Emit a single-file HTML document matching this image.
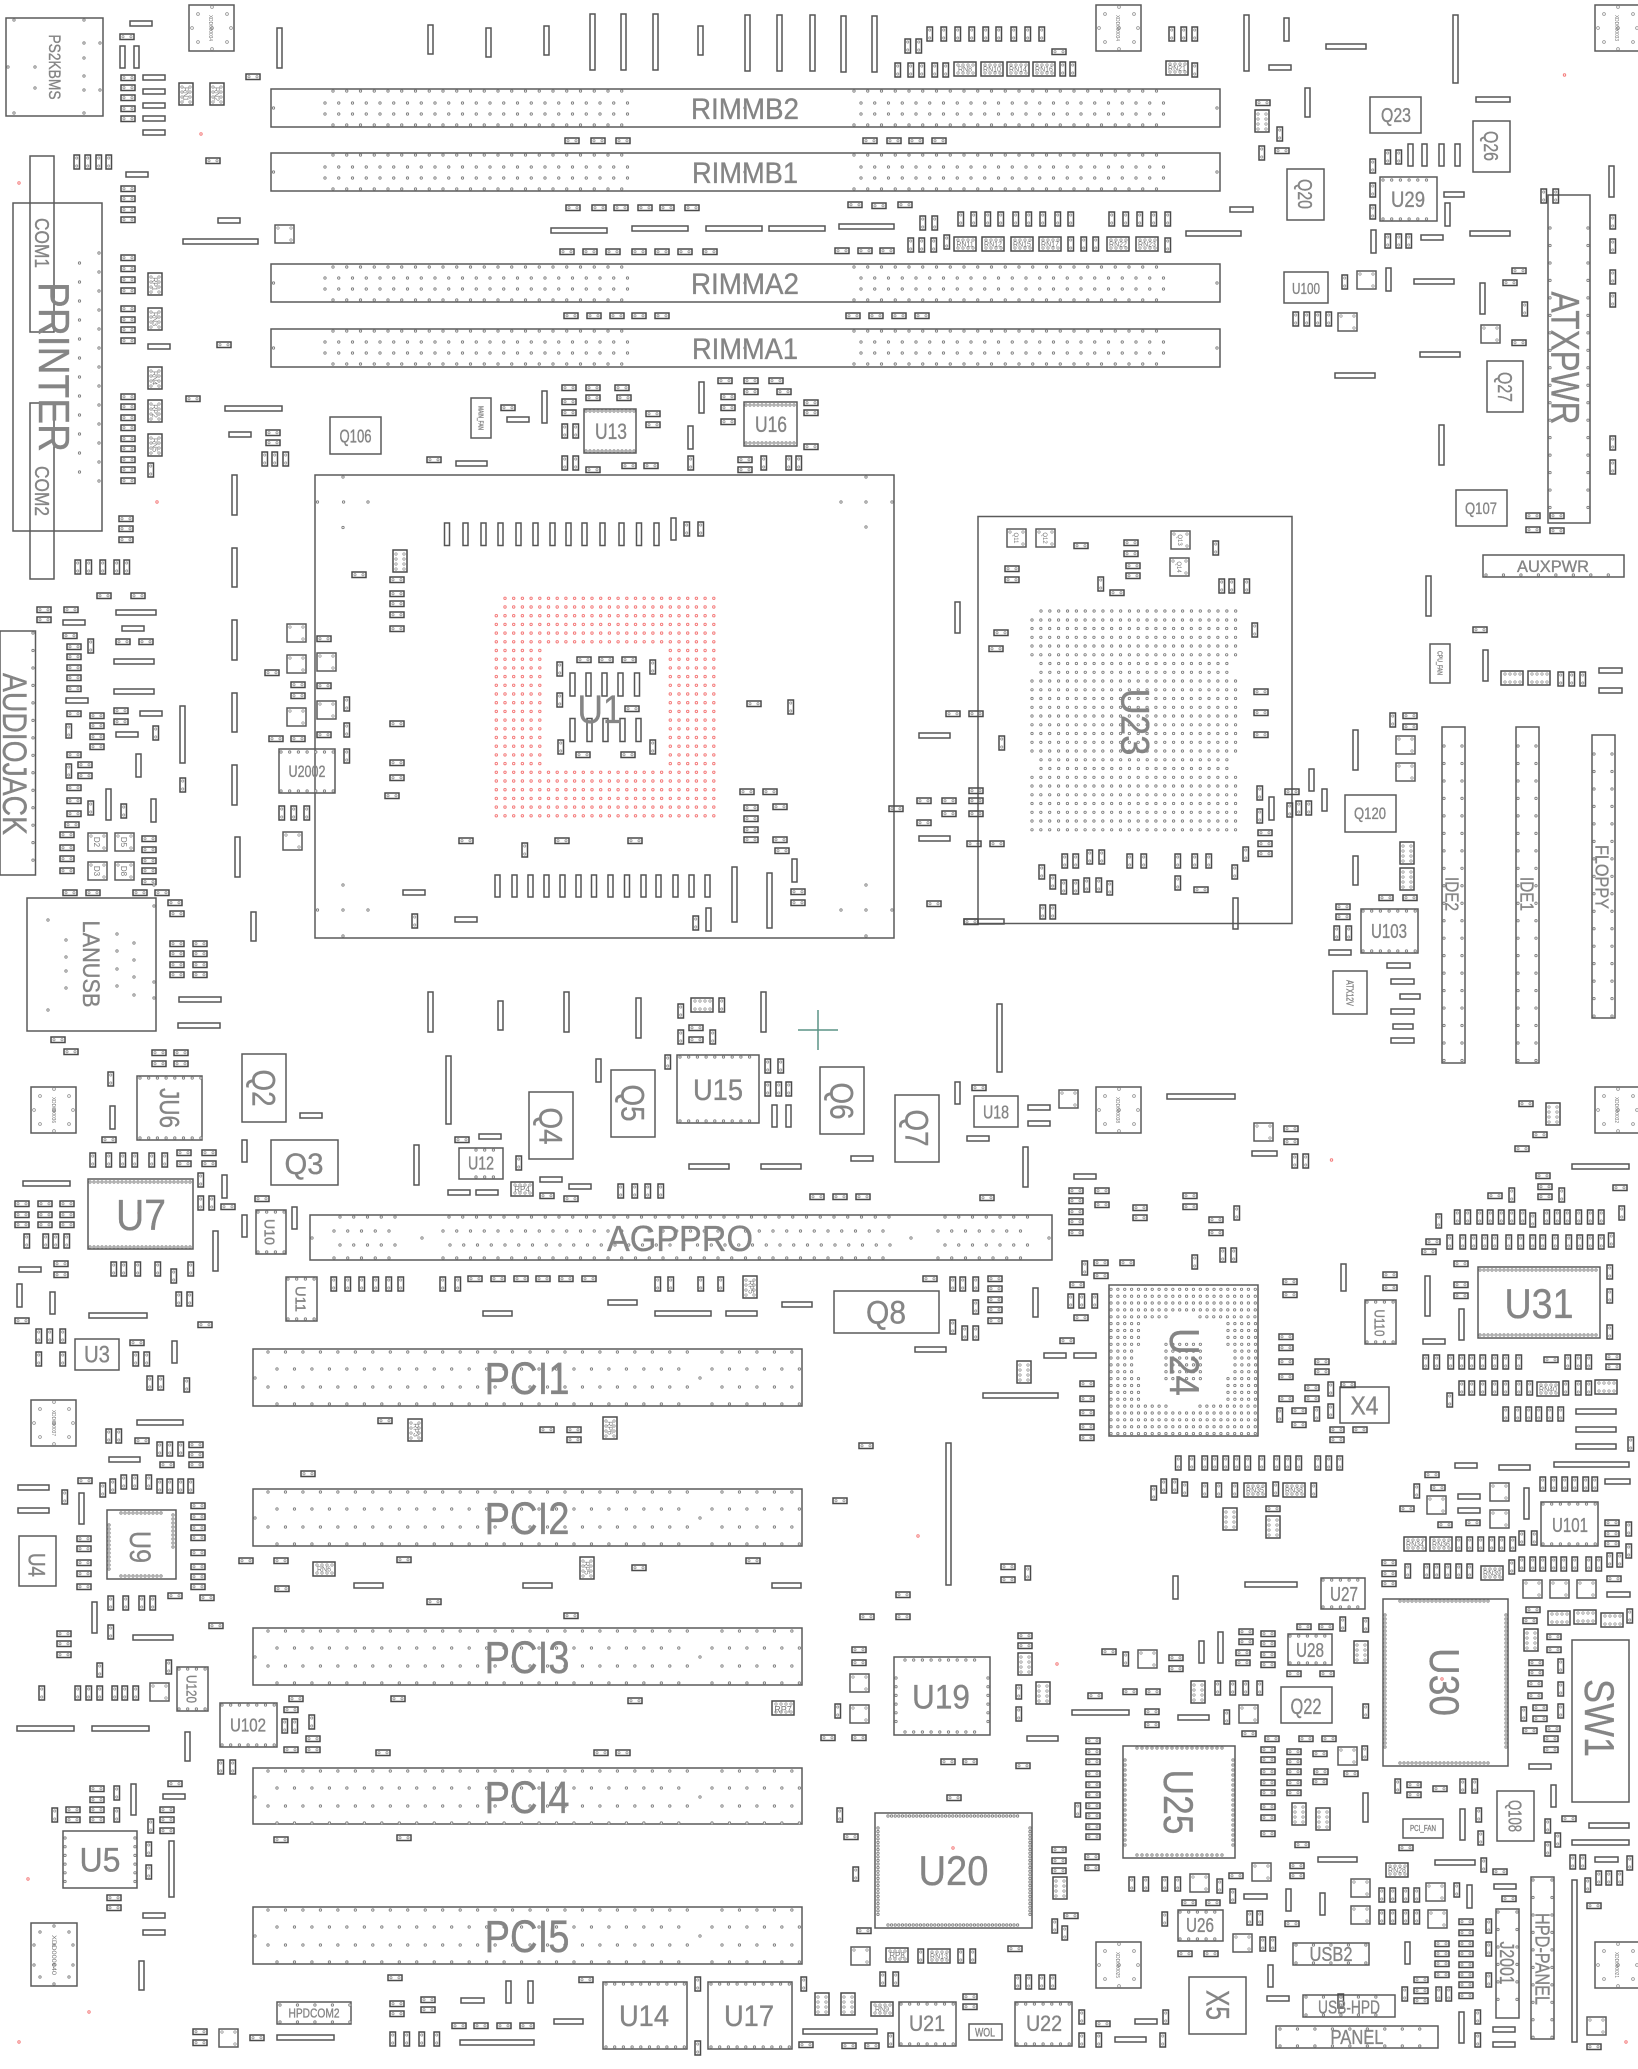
<!DOCTYPE html>
<html><head><meta charset="utf-8"><title>Board</title>
<style>
html,body{margin:0;padding:0;background:#fff}
svg{display:block}
.c{fill:none;stroke:#4a4a4a;stroke-width:1.5}
.b{fill:none;stroke:#5a5a5a;stroke-width:1.5}
.l{fill:none;stroke:#555;stroke-width:1.5}
.o{fill:none;stroke:#888;stroke-width:.7}
text{fill:#858585;stroke:#858585;stroke-width:.35;text-anchor:middle;font-family:"Liberation Sans",sans-serif}
.t text{stroke:none;fill:#777}
.p3{stroke-dasharray:0 3.6}.p4{stroke-dasharray:0 4}.p5{stroke-dasharray:0 5}.p7{stroke-dasharray:0 6.87}.p8{stroke-dasharray:0 8.85}.p9{stroke-dasharray:0 8.7}.p13{stroke-dasharray:0 13.75}.p17{stroke-dasharray:0 17.47}.p19{stroke-dasharray:0 19}
</style></head><body>
<svg xmlns="http://www.w3.org/2000/svg" width="1638" height="2069" viewBox="0 0 1638 2069">
<defs>
<g id="h"><rect class="c" width="14" height="5.5"/><circle class="o" cx="3" cy="2.75" r="1.1"/><circle class="o" cx="11" cy="2.75" r="1.1"/></g>
<g id="v"><rect class="c" width="5.5" height="14"/><circle class="o" cx="2.75" cy="3" r="1.1"/><circle class="o" cx="2.75" cy="11" r="1.1"/></g>
<g id="n"><rect class="c" width="22" height="14"/><circle class="o" cx="4" cy="3" r="1.2"/><circle class="o" cx="9" cy="3" r="1.2"/><circle class="o" cx="14" cy="3" r="1.2"/><circle class="o" cx="19" cy="3" r="1.2"/><circle class="o" cx="4" cy="11" r="1.2"/><circle class="o" cx="9" cy="11" r="1.2"/><circle class="o" cx="14" cy="11" r="1.2"/><circle class="o" cx="19" cy="11" r="1.2"/></g>
<g id="N"><rect class="c" width="14" height="22"/><circle class="o" cx="3" cy="4" r="1.2"/><circle class="o" cx="3" cy="9" r="1.2"/><circle class="o" cx="3" cy="14" r="1.2"/><circle class="o" cx="3" cy="19" r="1.2"/><circle class="o" cx="11" cy="4" r="1.2"/><circle class="o" cx="11" cy="9" r="1.2"/><circle class="o" cx="11" cy="14" r="1.2"/><circle class="o" cx="11" cy="19" r="1.2"/></g>
<g id="q"><rect class="b" width="19" height="18"/><circle class="o" cx="3" cy="3" r="1.2"/><circle class="o" cx="16" cy="3" r="1.2"/><circle class="o" cx="16" cy="15" r="1.2"/></g>
<g id="m"><rect class="b" width="45" height="46"/><circle class="o" cx="23" cy="2" r="1.4"/><circle class="o" cx="9" cy="9" r="1.4"/><circle class="o" cx="38" cy="9" r="1.4"/><circle class="o" cx="3" cy="23" r="1.4"/><circle class="o" cx="42" cy="23" r="1.4"/><circle class="o" cx="9" cy="37" r="1.4"/><circle class="o" cx="38" cy="37" r="1.4"/><circle class="o" cx="23" cy="44" r="1.4"/><circle class="o" cx="23" cy="23" r="1.4"/></g>
<g id="D">
<path class="p13" d="M333 91H635M854 91H1159M325 103H629M861 103H1166M325 114H629M861 114H1166M333 125H635M854 125H1159M333 155H635M854 155H1159M325 167H629M861 167H1166M325 178H629M861 178H1166M333 189H635M854 189H1159M333 267H635M854 267H1159M325 278H629M861 278H1166M325 289H629M861 289H1166M333 300H635M854 300H1159M333 331H635M854 331H1159M325 342H629M861 342H1166M325 353H629M861 353H1166M333 364H635M854 364H1159"/>
<path class="p13" d="M340 1217H397M449 1217H891M945 1217H1029M334 1231H390M443 1231H884M938 1231H1022M340 1245H397M450 1245H891M945 1245H1029M334 1258H390M443 1258H884M938 1258H1022"/>
<path class="p17" d="M268 1352H688M722 1352H792M277 1369H679M712 1369H801M268 1387H688M722 1387H792M277 1404H679M712 1404H801M268 1492H688M722 1492H792M277 1509H679M712 1509H801M268 1527H688M722 1527H792M277 1544H679M712 1544H801M268 1631H688M722 1631H792M277 1648H679M712 1648H801M268 1666H688M722 1666H792M277 1683H679M712 1683H801M268 1771H688M722 1771H792M277 1788H679M712 1788H801M268 1806H688M722 1806H792M277 1823H679M712 1823H801M268 1910H688M722 1910H792M277 1927H679M712 1927H801M268 1945H688M722 1945H792M277 1962H679M712 1962H801M1444 746V1062M1462 746V1062M1518 746V1062M1536 746V1062M1594 754V1017M1612 754V1017M33 633V870M1280 2029H1437M1280 2046H1437M1533 1880V2038M1552 1880V2038M1498 1912V2016M1517 1912V2016M1296 1945H1367M1296 1963H1367M1306 1997H1393M1306 2015H1393M1486 575H1622M280 2005H350M280 2022H350M1550 228V520M1588 228V520"/>
<path class="p19" d="M99 253V483M79.500 263V473"/>
<path class="p8" d="M1041 611H1237M1032 620H1237M1032 628.500H1237M1032 637.300H1237M1032 646H1237M1032 654.800H1237M1041 663.500H1228M1041 672.300H1228M1032 681H1237M1032 689.800H1237M1032 698.500H1237M1032 707.300H1237M1032 716H1237M1032 724.800H1237M1032 733.500H1237M1032 742.300H1237M1032 751H1237M1041 759.800H1228M1041 768.500H1228M1032 777.300H1237M1032 786H1237M1032 794.800H1237M1032 803.500H1237M1032 812.300H1237M1032 821H1237M1032 829.800H1237"/>
<path class="p7" d="M1111 1289.300H1257M1111 1296.200H1257M1111 1303H1257M1111 1309.900H1257M1111 1316.800H1167M1200 1316.800H1257M1111 1323.600H1139M1228 1323.600H1257M1111 1330.500H1139M1228 1330.500H1257M1111 1337.400H1139M1228 1337.400H1257M1111 1344.300H1139M1228 1344.300H1257M1111 1351.100H1132M1235 1351.100H1257M1111 1358H1132M1235 1358H1257M1111 1364.900H1132M1235 1364.900H1257M1111 1371.700H1132M1235 1371.700H1257M1111 1378.600H1139M1228 1378.600H1257M1111 1385.500H1139M1228 1385.500H1257M1111 1392.400H1139M1228 1392.400H1257M1111 1399.200H1139M1228 1399.200H1257M1111 1406.100H1167M1200 1406.100H1257M1111 1413H1257M1111 1419.800H1257M1111 1426.700H1257M1111 1433.600H1257M1166 1344.300H1201M1166 1351.100H1201M1166 1358H1201M1166 1364.900H1201M1166 1371.700H1201M1166 1378.600H1201"/>
<path class="p4" d="M90 1182H192M90 1247H192M1480 1270H1599M1480 1335H1599M121 1513H163M121 1576H163M109 1525V1571M173 1515V1550M586 411H635M586 451H635M746 405H796M746 443H796M1400 1601H1491M1400 1763H1491M1385 1615V1751M1506 1615V1751"/>
<path class="p3" d="M888 1816H1020M888 1925H1020M878 1828V1916M1030 1828V1916"/>
<path class="p5" d="M1137 1748H1223M1137 1855H1223M1125 1760V1846M1233 1760V1846"/>
<path class="p9" d="M905 1660H977M905 1732H977M896 1678V1723M988 1678V1723M65 1838V1885M135 1838V1885M680 1057H758M680 1121H758M606 1984H686M606 2047H686M711 1984H790M711 2047H790M140 1078H201M140 1138H201M1383 180H1435M1383 219H1435M222 1705H276M222 1745H276M1363 911H1417M1363 951H1417M901 2004H955M901 2044H955M1017 2004H1071M1017 2044H1071M281 752H334M281 791H334M258 1212H285M258 1252H285M288 1279H316M288 1319H316M1367 1302H1395M1367 1342H1395M179 1669H207M179 1709H207M1543 1504H1597M1543 1544H1597M1180 1912H1222M1180 1939H1222M1290 1636H1331M1290 1663H1331M476 1150H502M476 1177H502M1323 1580H1364M1323 1607H1364"/>
<path d="M273.500 108h0M1217 108h0M273.500 172h0M1217 172h0M273.500 283h0M1217 283h0M273.500 348h0M1217 348h0M745 108h0M745 172h0M745 283h0M745 348h0M317.500 502h0M343.600 502h0M368 502h0M343 527.500h0M343 477h0M841 502h0M866 502h0M892 502h0M866 477h0M866 527h0M343 885h0M317.500 910h0M343 910h0M368 910h0M343 936h0M841 910h0M866 910h0M892 910h0M866 885h0M866 936h0M255 1378h0M700 1378h0M255 1518h0M700 1518h0M255 1657h0M700 1657h0M255 1797h0M700 1797h0M255 1936h0M700 1936h0M422 1238h0M312 1238h0M911 1238h0M1049 1238h0M48 920h0M48 1010h0M66 940h0M66 957h0M66 971h0M66 988h0M117 934h0M117 951h0M117 969h0M117 986h0M134 943h0M134 960h0M134 977h0M134 995h0M154 885h0M154 906h0M154 982h0M154 998h0M35 67h0M35 88h0M84 43h0M84 58h0M84 76h0M84 90h0M100 43h0M100 90h0M14 20h0M84 20h0M14 113h0M84 113h0M8 67h0M54 1926h0M40 1932h0M69 1932h0M34 1945h0M73 1945h0M34 1965h0M73 1965h0M40 1977h0M69 1977h0M54 1984h0M54 1945h0M54 1965h0"/>
</g>
<g id="R">
<path class="p9" d="M505 598.300H715M505 607H715M496.300 615.700H715M496.300 624.400H715M496.300 633.100H715M496.300 641.800H715M496.300 650.500H540M670.300 650.500H715M496.300 659.200H540M670.300 659.200H715M496.300 667.900H540M670.300 667.900H715M496.300 676.600H540M670.300 676.600H715M496.300 685.300H540M670.300 685.300H715M496.300 694H540M670.300 694H715M496.300 702.700H540M670.300 702.700H715M496.300 711.400H540M670.300 711.400H715M496.300 720.100H540M670.300 720.100H715M496.300 728.800H540M670.300 728.800H715M496.300 737.500H540M670.300 737.500H715M496.300 746.200H540M670.300 746.200H715M496.300 754.900H540M670.300 754.900H715M496.300 763.600H540M670.300 763.600H715M496.300 772.300H715M496.300 781H715M496.300 789.700H715M496.300 798.400H715M496.300 807.100H715M496.300 815.800H715"/>
<path d="M201 134h0M19 183h0M157 502h0M1564.500 75h0M1331.500 1160h0M918 1536h0M1057 1664h0M1442 1679h0M953 1848h0M1626 2042h0M139 1213h0M28 1879h0M89 2012h0M19 2042h0"/>
</g>
</defs>

<!-- big outlines -->
<path class="b" d="M6 18h97v98h-97zM271 89h949v38h-949zM271 153h949v38h-949zM271 264h949v38h-949zM271 329h949v38h-949zM13 203h89v328h-89zM30 156h24v176h-24zM30 403h24v176h-24zM315 475h579v463h-579zM978 516.500h314v407h-314zM1548 195h42v328h-42zM0 631h35.500v244h-35.500zM27 898h129v133h-129zM310 1215h742v45h-742zM253 1349h549v57h-549zM253 1489h549v57h-549zM253 1628h549v57h-549zM253 1768h549v56h-549zM253 1907h549v57h-549z"/>
<path class="b" d="M1370 97h51v36h-51zM1473 121h37v51h-37zM1287 169h37v51h-37zM1380 177h57v44h-57zM1284 272h44v31h-44zM1487 361h36v51h-36zM1456 490h51v36h-51zM330 417h51v37h-51zM471 398h20v40h-20zM584 409h52v44h-52zM744 402h53v44h-53zM279 749h56v44h-56zM1483 555h141v22h-141zM1430 644h20v39h-20zM1345 795h51v37h-51zM1361 909h57v44h-57zM1333 971h34v43h-34zM1442 727h23v336h-23zM1516 727h23v336h-23zM1592 735h23v283h-23zM137 1076h65v64h-65zM242 1054h44v68h-44zM271 1140h67v45h-67zM459 1148h44v31h-44zM529 1092h44v67h-44zM611 1070h44v67h-44zM677 1055h82v68h-82zM88 1179h105v70h-105zM256 1210h30v44h-30zM286 1277h31v44h-31zM75 1339h44v31h-44zM19 1536h37v50h-37zM107 1510h69v69h-69zM177 1667h31v44h-31zM220 1703h57v44h-57zM63 1831h74v57h-74zM277 2002h74v22h-74zM603 1982h84v67h-84zM708 1982h84v67h-84zM820 1067h44v67h-44zM974 1096h44v31h-44zM895 1095h44v67h-44zM834 1291h105v42h-105zM1109 1285h149v151h-149zM1365 1300h31v44h-31zM1340 1387h49v36h-49zM1478 1267h122v71h-122zM1541 1502h57v44h-57zM1321 1578h44v31h-44zM1383 1599h125v167h-125zM1572 1640h57v162h-57zM894 1657h96v78h-96zM1281 1687h51v36h-51zM1288 1634h44v31h-44zM1123 1746h112v112h-112zM875 1813h157v115h-157zM1178 1910h45v31h-45zM1293 1943h76v22h-76zM1189 1977h57v57h-57zM1303 1995h92v22h-92zM1276 2026h162v22h-162zM1496 1909h23v109h-23zM1531 1877h23v162h-23zM899 2002h57v44h-57zM1015 2002h57v44h-57zM969 2024h33v16h-33zM1497 1791h37v50h-37zM1403 1819h40v19h-40zM31 1923h46v63h-46z"/>
<!-- long parts -->
<path class="l" d="M130 21h22v5h-22zM143 75h22v5h-22zM143 89h22v5h-22zM143 103h22v5h-22zM143 116h22v5h-22zM143 130h22v5h-22zM126 172h22v5h-22zM218 218h22v5h-22zM183 239h75v5h-75zM148 344h22v5h-22zM225 406h57v5h-57zM229 432h22v5h-22zM507 417h22v5h-22zM456 461h31v5h-31zM551 228h56v5h-56zM632 226h56v5h-56zM706 226h56v5h-56zM769 226h56v5h-56zM839 224h55v5h-55zM1230 207h23v5h-23zM1186 231h55v5h-55zM1326 44h40v5h-40zM1269 65h22v5h-22zM1476 97h34v5h-34zM1444 192h20v5h-20zM1421 235h22v5h-22zM1470 231h40v5h-40zM1414 279h40v5h-40zM1420 352h40v5h-40zM1335 373h40v5h-40zM63 620h22v5h-22zM116 610h40v5h-40zM122 626h22v5h-22zM114 659h40v5h-40zM114 689h40v5h-40zM66 698h22v5h-22zM140 711h22v5h-22zM116 732h22v5h-22zM179 997h42v5h-42zM178 1023h42v5h-42zM403 890h22v5h-22zM455 917h22v5h-22zM919 733h31v5h-31zM919 836h31v5h-31zM964 919h40v5h-40zM1329 950h22v5h-22zM1387 963h23v5h-23zM1391 979h23v5h-23zM1400 994h20v5h-20zM1391 1009h23v5h-23zM1393 1024h20v5h-20zM1391 1038h23v5h-23zM1599 668h23v5h-23zM1599 688h23v5h-23zM300 1113h22v5h-22zM479 1134h22v5h-22zM689 1164h40v5h-40zM761 1164h40v5h-40zM448 1190h22v5h-22zM476 1190h22v5h-22zM540 1177h22v5h-22zM569 1184h22v5h-22zM23 1181h47v5h-47zM19 1267h22v5h-22zM608 1300h29v5h-29zM483 1311h29v5h-29zM655 1311h56v5h-56zM726 1311h31v5h-31zM782 1302h30v5h-30zM89 1313h58v5h-58zM137 1420h46v5h-46zM109 1457h31v5h-31zM18 1485h31v5h-31zM18 1508h31v5h-31zM133 1635h40v5h-40zM17 1726h57v5h-57zM92 1726h57v5h-57zM354 1583h29v5h-29zM523 1583h29v5h-29zM772 1583h29v5h-29zM163 1794h22v5h-22zM143 1913h22v5h-22zM143 1930h22v5h-22zM461 1998h23v5h-23zM554 2019h29v5h-29zM460 2040h74v5h-74zM277 2035h57v5h-57zM803 2029h74v5h-74zM1028 1105h22v5h-22zM1028 1121h22v5h-22zM967 1136h22v5h-22zM1167 1094h68v5h-68zM851 1156h22v5h-22zM1252 1151h25v5h-25zM1572 1164h57v5h-57zM1074 1174h22v5h-22zM1044 1353h22v5h-22zM1074 1353h22v5h-22zM983 1393h75v5h-75zM915 1347h31v5h-31zM1423 1339h22v5h-22zM1576 1409h40v5h-40zM1576 1427h40v5h-40zM1576 1444h40v5h-40zM1554 1462h75v5h-75zM1499 1465h31v5h-31zM1455 1463h22v5h-22zM1458 1494h22v5h-22zM1458 1508h22v5h-22zM1605 1479h25v5h-25zM1245 1582h52v5h-52zM1607 1592h23v5h-23zM1529 1764h22v5h-22zM1027 1736h31v5h-31zM1072 1710h57v5h-57zM1178 1715h31v5h-31zM1589 1823h40v5h-40zM1572 1840h57v5h-57zM1435 1860h40v5h-40zM1318 1857h39v5h-39zM1595 1857h23v5h-23zM1494 1884h22v5h-22zM1244 1894h23v5h-23zM1267 1996h22v5h-22zM1493 2027h22v5h-22zM1493 2042h22v5h-22zM1135 2019h22v5h-22zM1115 2037h31v5h-31z"/>
<path class="l" d="M120 46h5v22h-5zM134 46h5v22h-5zM277 28h5v40h-5zM428 25h5v29h-5zM486 28h5v29h-5zM544 26h5v29h-5zM590 14h5v56h-5zM621 14h5v56h-5zM653 14h5v56h-5zM698 26h5v29h-5zM745 15h5v56h-5zM777 15h5v56h-5zM810 15h5v56h-5zM841 16h5v56h-5zM872 16h5v56h-5zM1244 15h5v56h-5zM1284 18h5v23h-5zM1453 15h5v68h-5zM1305 88h5v29h-5zM1408 144h5v22h-5zM1422 144h5v22h-5zM1439 144h5v22h-5zM1455 144h5v22h-5zM1445 203h5v23h-5zM1371 230h5v23h-5zM1609 166h5v31h-5zM1386 268h5v23h-5zM1480 283h5v31h-5zM1439 425h5v40h-5zM542 391h5v32h-5zM688 426h5v23h-5zM699 382h5v31h-5zM232 475h5v40h-5zM232 548h5v39h-5zM232 620h5v40h-5zM232 693h5v39h-5zM232 765h5v40h-5zM235 837h5v40h-5zM251 912h5v29h-5zM444.500 523h5v22.500h-5zM463 523h5v22.500h-5zM481 523h5v22.500h-5zM498 523h5v22.500h-5zM516 523h5v22.500h-5zM533 523h5v22.500h-5zM550 523h5v22.500h-5zM566 523h5v22.500h-5zM582 523h5v22.500h-5zM600 523h5v22.500h-5zM619 523h5v22.500h-5zM636.500 523h5v22.500h-5zM654 523h5v22.500h-5zM671 518h5v22h-5zM495 875h5v22h-5zM512 875h5v22h-5zM528 875h5v22h-5zM544 875h5v22h-5zM560 875h5v22h-5zM576 875h5v22h-5zM591.500 875h5v22h-5zM608 875h5v22h-5zM624.500 875h5v22h-5zM641 875h5v22h-5zM656 875h5v22h-5zM673 875h5v22h-5zM689 875h5v22h-5zM705 875h5v22h-5zM732 867h5v55h-5zM767 873h5v55h-5zM706 908h5v23h-5zM792 859h5v23h-5zM570 673h5v23h-5zM586 673h5v23h-5zM602 673h5v23h-5zM618 673h5v23h-5zM634.500 673h5v23h-5zM570 718.500h5v23h-5zM587 718.500h5v23h-5zM603 718.500h5v23h-5zM620 718.500h5v23h-5zM636 718.500h5v23h-5zM136 754h5v23h-5zM180 706h5v57h-5zM106 789h5v31h-5zM151 799h5v23h-5zM428 992h5v40h-5zM498 1001h5v29h-5zM564 992h5v40h-5zM636 998h5v40h-5zM761 992h5v40h-5zM955 602h5v31h-5zM1426 576h5v40h-5zM1483 650h5v31h-5zM1269 797h5v23h-5zM1309 769h5v22h-5zM1322 789h5v22h-5zM1233 898h5v31h-5zM1353 730h5v40h-5zM1353 856h5v29h-5zM110 1106h5v23h-5zM446 1056h5v68h-5zM242 1140h5v22h-5zM414 1145h5v40h-5zM596 1059h5v23h-5zM772 1105h5v22h-5zM786 1105h5v22h-5zM222 1175h5v23h-5zM213 1231h5v40h-5zM242 1215h5v22h-5zM292 1207h5v22h-5zM17 1284h5v23h-5zM50 1292h5v22h-5zM172 1341h5v22h-5zM79 1493h5v31h-5zM92 1602h5v31h-5zM185 1732h5v29h-5zM131 1784h5v31h-5zM169 1841h5v56h-5zM139 1961h5v29h-5zM506 1981h5v22h-5zM528 1981h5v22h-5zM997 1004h5v68h-5zM955 1082h5v22h-5zM1023 1147h5v40h-5zM1033 1288h5v29h-5zM1341 1264h5v27h-5zM1425 1276h5v40h-5zM1459 1309h5v31h-5zM946 1443h5v142h-5zM1173 1576h5v23h-5zM1199 1641h5v22h-5zM1218 1632h5v31h-5zM1524 1488h5v31h-5zM1363 1793h5v29h-5zM1551 1785h5v22h-5zM1460 1809h5v31h-5zM1467 1885h5v23h-5zM1286 1889h5v22h-5zM1320 1893h5v22h-5zM1405 1942h5v22h-5zM1572 1880h5v162h-5zM1268 1965h5v22h-5zM1459 2012h5v31h-5z"/>

<!-- holes -->
<use href="#m" x="189" y="5"/><use href="#m" x="1096" y="5"/><use href="#m" x="1595" y="5"/><use href="#m" x="31" y="1087"/><use href="#m" x="31" y="1400"/><use href="#m" x="1096" y="1087"/><use href="#m" x="1595" y="1087"/><use href="#m" x="1096" y="1942"/><use href="#m" x="1595" y="1942"/>

<!-- square parts -->
<use href="#q" x="1357" y="271"/><use href="#q" x="1338" y="313"/><use href="#q" x="1481" y="325"/><use href="#q" x="275" y="225"/><use href="#q" x="287" y="624"/><use href="#q" x="287" y="655"/><use href="#q" x="317" y="653"/><use href="#q" x="317" y="701"/><use href="#q" x="287" y="708"/><use href="#q" x="283" y="832"/><use href="#q" x="88" y="833"/><use href="#q" x="115" y="833"/><use href="#q" x="88" y="862"/><use href="#q" x="115" y="862"/><use href="#q" x="1007" y="529"/><use href="#q" x="1036" y="529"/><use href="#q" x="1171" y="531"/><use href="#q" x="1170" y="558"/><use href="#q" x="1396" y="736"/><use href="#q" x="1396" y="763"/><use href="#q" x="150" y="1683"/><use href="#q" x="219" y="2029"/><use href="#q" x="1059" y="1090"/><use href="#q" x="1254" y="1123"/><use href="#q" x="1427" y="1496"/><use href="#q" x="1490" y="1483"/><use href="#q" x="1490" y="1510"/><use href="#q" x="1523" y="1580"/><use href="#q" x="1550" y="1580"/><use href="#q" x="1577" y="1580"/><use href="#q" x="850" y="1674"/><use href="#q" x="850" y="1705"/><use href="#q" x="1138" y="1650"/><use href="#q" x="1239" y="1705"/><use href="#q" x="1338" y="1747"/><use href="#q" x="851" y="1947"/><use href="#q" x="1190" y="1874"/><use href="#q" x="1252" y="1863"/><use href="#q" x="1233" y="1934"/><use href="#q" x="1351" y="1879"/><use href="#q" x="1351" y="1906"/><use href="#q" x="1426" y="1883"/><use href="#q" x="1428" y="1910"/><use href="#q" x="1587" y="2017"/>

<!-- RN packs -->
<use href="#N" x="179" y="83"/><use href="#N" x="210" y="83"/><use href="#n" x="954" y="62"/><use href="#n" x="981" y="62"/><use href="#n" x="1007" y="62"/><use href="#n" x="1033" y="62"/><use href="#n" x="1166" y="61"/><use href="#N" x="1255" y="110"/><use href="#n" x="954" y="237"/><use href="#n" x="982" y="237"/><use href="#n" x="1011" y="237"/><use href="#n" x="1039" y="237"/><use href="#n" x="1107" y="237"/><use href="#n" x="1136" y="237"/><use href="#N" x="148" y="273"/><use href="#N" x="148" y="308"/><use href="#N" x="148" y="367"/><use href="#N" x="148" y="400"/><use href="#N" x="148" y="434"/><use href="#N" x="393" y="550"/><use href="#n" x="691" y="998"/><use href="#n" x="1501" y="671"/><use href="#n" x="1528" y="671"/><use href="#N" x="1400" y="842"/><use href="#N" x="1400" y="868"/><use href="#n" x="511" y="1182"/><use href="#N" x="743" y="1276"/><use href="#N" x="408" y="1419"/><use href="#N" x="603" y="1417"/><use href="#n" x="313" y="1562"/><use href="#N" x="580" y="1557"/><use href="#n" x="772" y="1701"/><use href="#N" x="815" y="1993"/><use href="#N" x="1017" y="1361"/><use href="#N" x="1546" y="1103"/><use href="#n" x="1244" y="1483"/><use href="#n" x="1283" y="1483"/><use href="#N" x="1223" y="1508"/><use href="#N" x="1266" y="1516"/><use href="#n" x="1537" y="1382"/><use href="#n" x="1595" y="1380"/><use href="#n" x="1404" y="1537"/><use href="#n" x="1430" y="1537"/><use href="#n" x="1481" y="1566"/><use href="#n" x="1548" y="1611"/><use href="#n" x="1574" y="1610"/><use href="#n" x="1601" y="1613"/><use href="#N" x="1524" y="1629"/><use href="#N" x="1018" y="1653"/><use href="#N" x="1036" y="1682"/><use href="#N" x="1191" y="1681"/><use href="#N" x="1354" y="1641"/><use href="#N" x="1053" y="1877"/><use href="#N" x="1292" y="1803"/><use href="#N" x="1316" y="1808"/><use href="#n" x="1386" y="1863"/><use href="#n" x="886" y="1948"/><use href="#n" x="928" y="1949"/><use href="#N" x="841" y="1993"/><use href="#n" x="871" y="2002"/>

<!-- small horizontal parts -->
<g>
<use href="#h" x="120" y="34"/><use href="#h" x="121" y="75"/><use href="#h" x="121" y="85"/><use href="#h" x="121" y="95"/><use href="#h" x="121" y="106"/><use href="#h" x="121" y="116"/><use href="#h" x="246" y="74"/><use href="#h" x="1052" y="49"/><use href="#h" x="1256" y="100"/><use href="#h" x="1275" y="148"/><use href="#h" x="848" y="202"/><use href="#h" x="872" y="203"/><use href="#h" x="898" y="202"/><use href="#h" x="835" y="248"/><use href="#h" x="858" y="248"/><use href="#h" x="880" y="248"/><use href="#h" x="1512" y="268"/><use href="#h" x="1503" y="280"/><use href="#h" x="1512" y="340"/><use href="#h" x="1526" y="513"/><use href="#h" x="1550" y="513"/><use href="#h" x="1526" y="527"/><use href="#h" x="1550" y="528"/>
<use href="#h" x="121" y="186"/><use href="#h" x="121" y="196"/><use href="#h" x="121" y="207"/><use href="#h" x="121" y="217"/><use href="#h" x="206" y="158"/><use href="#h" x="121" y="255"/><use href="#h" x="121" y="266"/><use href="#h" x="121" y="277"/><use href="#h" x="121" y="288"/><use href="#h" x="121" y="306"/><use href="#h" x="121" y="317"/><use href="#h" x="121" y="327"/><use href="#h" x="121" y="338"/><use href="#h" x="217" y="342"/>
<use href="#h" x="121" y="394"/><use href="#h" x="121" y="404"/><use href="#h" x="121" y="415"/><use href="#h" x="121" y="425"/><use href="#h" x="121" y="436"/><use href="#h" x="121" y="446"/><use href="#h" x="121" y="457"/><use href="#h" x="121" y="467"/><use href="#h" x="121" y="478"/><use href="#h" x="186" y="396"/><use href="#h" x="266" y="430"/><use href="#h" x="266" y="440"/><use href="#h" x="501" y="405"/><use href="#h" x="427" y="457"/>
<use href="#h" x="562" y="385"/><use href="#h" x="586" y="385"/><use href="#h" x="615" y="385"/><use href="#h" x="586" y="395"/><use href="#h" x="617" y="395"/><use href="#h" x="562" y="399"/><use href="#h" x="562" y="410"/><use href="#h" x="646" y="411"/><use href="#h" x="646" y="422"/><use href="#h" x="586" y="467"/><use href="#h" x="622" y="463"/><use href="#h" x="644" y="463"/><use href="#h" x="718" y="378"/><use href="#h" x="744" y="378"/><use href="#h" x="769" y="378"/><use href="#h" x="721" y="394"/><use href="#h" x="744" y="389"/><use href="#h" x="777" y="389"/><use href="#h" x="721" y="405"/><use href="#h" x="721" y="419"/><use href="#h" x="804" y="400"/><use href="#h" x="804" y="410"/><use href="#h" x="804" y="444"/><use href="#h" x="738" y="457"/><use href="#h" x="738" y="467"/>
<use href="#h" x="565" y="138"/><use href="#h" x="591" y="138"/><use href="#h" x="616" y="138"/><use href="#h" x="863" y="138"/><use href="#h" x="887" y="138"/><use href="#h" x="909" y="138"/><use href="#h" x="932" y="138"/><use href="#h" x="566" y="205"/><use href="#h" x="592" y="205"/><use href="#h" x="614" y="205"/><use href="#h" x="638" y="205"/><use href="#h" x="660" y="205"/><use href="#h" x="685" y="205"/><use href="#h" x="560" y="249"/><use href="#h" x="583" y="249"/><use href="#h" x="606" y="249"/><use href="#h" x="632" y="249"/><use href="#h" x="655" y="249"/><use href="#h" x="678" y="249"/><use href="#h" x="703" y="249"/><use href="#h" x="564" y="313"/><use href="#h" x="587" y="313"/><use href="#h" x="610" y="313"/><use href="#h" x="632" y="313"/><use href="#h" x="655" y="313"/><use href="#h" x="846" y="313"/><use href="#h" x="869" y="313"/><use href="#h" x="892" y="313"/><use href="#h" x="915" y="313"/>
<use href="#h" x="119" y="516"/><use href="#h" x="119" y="526"/><use href="#h" x="119" y="537"/><use href="#h" x="97" y="593"/><use href="#h" x="131" y="593"/><use href="#h" x="37" y="607"/><use href="#h" x="37" y="617"/><use href="#h" x="64" y="607"/><use href="#h" x="63" y="633"/><use href="#h" x="116" y="639"/><use href="#h" x="139" y="639"/><use href="#h" x="67" y="644"/><use href="#h" x="67" y="654"/><use href="#h" x="67" y="665"/><use href="#h" x="67" y="675"/><use href="#h" x="67" y="686"/><use href="#h" x="67" y="711"/><use href="#h" x="90" y="713"/><use href="#h" x="90" y="723"/><use href="#h" x="90" y="734"/><use href="#h" x="90" y="744"/><use href="#h" x="114" y="708"/><use href="#h" x="114" y="719"/><use href="#h" x="67" y="752"/><use href="#h" x="78" y="762"/><use href="#h" x="78" y="773"/><use href="#h" x="67" y="785"/><use href="#h" x="67" y="798"/><use href="#h" x="67" y="811"/><use href="#h" x="65" y="822"/><use href="#h" x="60" y="832"/><use href="#h" x="60" y="845"/><use href="#h" x="60" y="856"/><use href="#h" x="60" y="868"/><use href="#h" x="142" y="836"/><use href="#h" x="142" y="847"/><use href="#h" x="142" y="858"/><use href="#h" x="142" y="868"/><use href="#h" x="142" y="879"/><use href="#h" x="63" y="890"/><use href="#h" x="86" y="890"/><use href="#h" x="133" y="890"/><use href="#h" x="155" y="890"/><use href="#h" x="168" y="900"/><use href="#h" x="170" y="911"/><use href="#h" x="170" y="941"/><use href="#h" x="193" y="941"/><use href="#h" x="170" y="951"/><use href="#h" x="193" y="951"/><use href="#h" x="170" y="962"/><use href="#h" x="193" y="962"/><use href="#h" x="170" y="972"/><use href="#h" x="193" y="972"/><use href="#h" x="51" y="1037"/><use href="#h" x="64" y="1049"/>
<use href="#h" x="390" y="577"/><use href="#h" x="390" y="591"/><use href="#h" x="390" y="601"/><use href="#h" x="390" y="612"/><use href="#h" x="390" y="626"/><use href="#h" x="352" y="572"/><use href="#h" x="390" y="721"/><use href="#h" x="390" y="760"/><use href="#h" x="390" y="775"/><use href="#h" x="385" y="793"/><use href="#h" x="317" y="636"/><use href="#h" x="265" y="670"/><use href="#h" x="291" y="682"/><use href="#h" x="291" y="693"/><use href="#h" x="317" y="683"/><use href="#h" x="317" y="732"/><use href="#h" x="269" y="736"/><use href="#h" x="291" y="736"/>
<use href="#h" x="577" y="657"/><use href="#h" x="599" y="657"/><use href="#h" x="622" y="657"/><use href="#h" x="625" y="706"/><use href="#h" x="576" y="752"/><use href="#h" x="621" y="752"/><use href="#h" x="747" y="701"/><use href="#h" x="740" y="789"/><use href="#h" x="763" y="789"/><use href="#h" x="744" y="805"/><use href="#h" x="773" y="804"/><use href="#h" x="744" y="816"/><use href="#h" x="744" y="827"/><use href="#h" x="744" y="837"/><use href="#h" x="773" y="837"/><use href="#h" x="775" y="848"/><use href="#h" x="459" y="838"/><use href="#h" x="555" y="838"/><use href="#h" x="628" y="838"/><use href="#h" x="791" y="889"/><use href="#h" x="791" y="900"/>
<use href="#h" x="1074" y="543"/><use href="#h" x="1124" y="540"/><use href="#h" x="1124" y="551"/><use href="#h" x="1126" y="563"/><use href="#h" x="1126" y="573"/><use href="#h" x="1110" y="590"/><use href="#h" x="1005" y="566"/><use href="#h" x="1005" y="577"/><use href="#h" x="994" y="630"/><use href="#h" x="989" y="646"/><use href="#h" x="1254" y="689"/><use href="#h" x="1254" y="710"/><use href="#h" x="1254" y="732"/><use href="#h" x="946" y="711"/><use href="#h" x="969" y="711"/><use href="#h" x="969" y="788"/><use href="#h" x="917" y="798"/><use href="#h" x="942" y="798"/><use href="#h" x="969" y="798"/><use href="#h" x="942" y="811"/><use href="#h" x="969" y="811"/><use href="#h" x="917" y="820"/><use href="#h" x="889" y="806"/><use href="#h" x="967" y="841"/><use href="#h" x="990" y="841"/><use href="#h" x="1194" y="887"/><use href="#h" x="1258" y="830"/><use href="#h" x="1258" y="841"/><use href="#h" x="1258" y="851"/><use href="#h" x="1285" y="789"/><use href="#h" x="927" y="901"/><use href="#h" x="964" y="919"/><use href="#h" x="1403" y="713"/><use href="#h" x="1403" y="724"/><use href="#h" x="1379" y="895"/><use href="#h" x="1403" y="895"/><use href="#h" x="1336" y="904"/><use href="#h" x="1336" y="914"/><use href="#h" x="1473" y="627"/>
<use href="#h" x="152" y="1050"/><use href="#h" x="174" y="1050"/><use href="#h" x="152" y="1061"/><use href="#h" x="174" y="1061"/><use href="#h" x="102" y="1137"/><use href="#h" x="455" y="1137"/><use href="#h" x="810" y="1194"/><use href="#h" x="833" y="1194"/><use href="#h" x="856" y="1194"/><use href="#h" x="540" y="1193"/><use href="#h" x="564" y="1196"/><use href="#h" x="177" y="1150"/><use href="#h" x="202" y="1150"/><use href="#h" x="177" y="1161"/><use href="#h" x="202" y="1161"/><use href="#h" x="221" y="1204"/><use href="#h" x="255" y="1196"/><use href="#h" x="15" y="1201"/><use href="#h" x="38" y="1201"/><use href="#h" x="60" y="1201"/><use href="#h" x="15" y="1212"/><use href="#h" x="38" y="1212"/><use href="#h" x="60" y="1212"/><use href="#h" x="15" y="1222"/><use href="#h" x="38" y="1222"/><use href="#h" x="60" y="1222"/><use href="#h" x="54" y="1261"/><use href="#h" x="54" y="1272"/><use href="#h" x="468" y="1276"/><use href="#h" x="491" y="1276"/><use href="#h" x="514" y="1276"/><use href="#h" x="536" y="1276"/><use href="#h" x="559" y="1276"/><use href="#h" x="582" y="1276"/><use href="#h" x="15" y="1318"/><use href="#h" x="198" y="1322"/><use href="#h" x="130" y="1340"/><use href="#h" x="135" y="1438"/><use href="#h" x="189" y="1442"/><use href="#h" x="189" y="1452"/><use href="#h" x="160" y="1462"/><use href="#h" x="189" y="1462"/><use href="#h" x="378" y="1418"/><use href="#h" x="540" y="1427"/><use href="#h" x="567" y="1427"/><use href="#h" x="567" y="1437"/><use href="#h" x="301" y="1471"/><use href="#h" x="78" y="1478"/><use href="#h" x="191" y="1503"/><use href="#h" x="191" y="1514"/><use href="#h" x="191" y="1525"/><use href="#h" x="191" y="1535"/><use href="#h" x="191" y="1550"/><use href="#h" x="77" y="1536"/><use href="#h" x="77" y="1546"/><use href="#h" x="77" y="1560"/><use href="#h" x="77" y="1571"/><use href="#h" x="77" y="1584"/><use href="#h" x="191" y="1564"/><use href="#h" x="191" y="1574"/><use href="#h" x="191" y="1584"/><use href="#h" x="168" y="1593"/><use href="#h" x="200" y="1595"/><use href="#h" x="209" y="1623"/><use href="#h" x="57" y="1631"/><use href="#h" x="57" y="1641"/><use href="#h" x="57" y="1652"/>
<use href="#h" x="239" y="1558"/><use href="#h" x="274" y="1558"/><use href="#h" x="397" y="1557"/><use href="#h" x="632" y="1565"/><use href="#h" x="746" y="1558"/><use href="#h" x="275" y="1586"/><use href="#h" x="427" y="1599"/><use href="#h" x="564" y="1613"/><use href="#h" x="284" y="1707"/><use href="#h" x="289" y="1696"/><use href="#h" x="391" y="1696"/><use href="#h" x="628" y="1698"/><use href="#h" x="306" y="1736"/><use href="#h" x="306" y="1747"/><use href="#h" x="284" y="1747"/><use href="#h" x="376" y="1750"/><use href="#h" x="594" y="1750"/><use href="#h" x="616" y="1750"/><use href="#h" x="168" y="1781"/><use href="#h" x="90" y="1786"/><use href="#h" x="90" y="1797"/><use href="#h" x="66" y="1807"/><use href="#h" x="90" y="1807"/><use href="#h" x="66" y="1817"/><use href="#h" x="90" y="1817"/><use href="#h" x="160" y="1807"/><use href="#h" x="160" y="1817"/><use href="#h" x="160" y="1828"/><use href="#h" x="107" y="1895"/><use href="#h" x="107" y="1905"/><use href="#h" x="274" y="1837"/><use href="#h" x="397" y="1835"/><use href="#h" x="388" y="1975"/><use href="#h" x="579" y="1977"/><use href="#h" x="390" y="2001"/><use href="#h" x="390" y="2011"/><use href="#h" x="421" y="1997"/><use href="#h" x="421" y="2007"/><use href="#h" x="452" y="2023"/><use href="#h" x="474" y="2023"/><use href="#h" x="497" y="2023"/><use href="#h" x="520" y="2023"/><use href="#h" x="250" y="2035"/><use href="#h" x="193" y="2029"/><use href="#h" x="193" y="2040"/><use href="#h" x="799" y="2042"/>
<use href="#h" x="972" y="1085"/><use href="#h" x="980" y="1195"/><use href="#h" x="1069" y="1188"/><use href="#h" x="1069" y="1198"/><use href="#h" x="1069" y="1209"/><use href="#h" x="1069" y="1219"/><use href="#h" x="1069" y="1230"/><use href="#h" x="1095" y="1188"/><use href="#h" x="1095" y="1202"/><use href="#h" x="1133" y="1205"/><use href="#h" x="1133" y="1215"/><use href="#h" x="1183" y="1193"/><use href="#h" x="1183" y="1204"/><use href="#h" x="1209" y="1217"/><use href="#h" x="1209" y="1230"/><use href="#h" x="1094" y="1260"/><use href="#h" x="1120" y="1260"/><use href="#h" x="1094" y="1273"/><use href="#h" x="1070" y="1282"/><use href="#h" x="1074" y="1315"/><use href="#h" x="1060" y="1338"/><use href="#h" x="923" y="1276"/><use href="#h" x="988" y="1276"/><use href="#h" x="988" y="1286"/><use href="#h" x="988" y="1297"/><use href="#h" x="988" y="1307"/><use href="#h" x="988" y="1318"/><use href="#h" x="859" y="1443"/><use href="#h" x="833" y="1498"/>
<use href="#h" x="1284" y="1126"/><use href="#h" x="1284" y="1139"/><use href="#h" x="1519" y="1101"/><use href="#h" x="1533" y="1132"/><use href="#h" x="1515" y="1146"/><use href="#h" x="1283" y="1279"/><use href="#h" x="1283" y="1292"/><use href="#h" x="1383" y="1272"/><use href="#h" x="1383" y="1285"/><use href="#h" x="1279" y="1334"/><use href="#h" x="1279" y="1345"/><use href="#h" x="1279" y="1359"/><use href="#h" x="1279" y="1374"/><use href="#h" x="1279" y="1396"/><use href="#h" x="1315" y="1359"/><use href="#h" x="1315" y="1369"/><use href="#h" x="1305" y="1385"/><use href="#h" x="1305" y="1396"/><use href="#h" x="1292" y="1408"/><use href="#h" x="1292" y="1422"/><use href="#h" x="1341" y="1382"/><use href="#h" x="1330" y="1427"/><use href="#h" x="1353" y="1427"/><use href="#h" x="1330" y="1437"/><use href="#h" x="1080" y="1381"/><use href="#h" x="1080" y="1396"/><use href="#h" x="1080" y="1410"/><use href="#h" x="1080" y="1424"/><use href="#h" x="1080" y="1435"/><use href="#h" x="1266" y="1506"/>
<use href="#h" x="1536" y="1173"/><use href="#h" x="1538" y="1184"/><use href="#h" x="1538" y="1194"/><use href="#h" x="1488" y="1193"/><use href="#h" x="1613" y="1185"/><use href="#h" x="1426" y="1239"/><use href="#h" x="1422" y="1249"/><use href="#h" x="1454" y="1261"/><use href="#h" x="1454" y="1282"/><use href="#h" x="1454" y="1293"/><use href="#h" x="1544" y="1357"/><use href="#h" x="1606" y="1354"/><use href="#h" x="1606" y="1364"/><use href="#h" x="1425" y="1472"/><use href="#h" x="1431" y="1485"/><use href="#h" x="1400" y="1506"/><use href="#h" x="1438" y="1522"/><use href="#h" x="1466" y="1520"/><use href="#h" x="1605" y="1520"/><use href="#h" x="1605" y="1531"/><use href="#h" x="1605" y="1541"/>
<use href="#h" x="1001" y="1564"/><use href="#h" x="1001" y="1577"/><use href="#h" x="1382" y="1560"/><use href="#h" x="1382" y="1571"/><use href="#h" x="1382" y="1581"/><use href="#h" x="1607" y="1576"/><use href="#h" x="1526" y="1607"/><use href="#h" x="1523" y="1618"/><use href="#h" x="1547" y="1634"/><use href="#h" x="1547" y="1647"/><use href="#h" x="1529" y="1660"/><use href="#h" x="1529" y="1670"/><use href="#h" x="1528" y="1681"/><use href="#h" x="1528" y="1693"/><use href="#h" x="1533" y="1705"/><use href="#h" x="1533" y="1716"/><use href="#h" x="1546" y="1726"/><use href="#h" x="1523" y="1728"/><use href="#h" x="1544" y="1736"/><use href="#h" x="1544" y="1747"/>
<use href="#h" x="852" y="1647"/><use href="#h" x="852" y="1660"/><use href="#h" x="821" y="1735"/><use href="#h" x="852" y="1735"/><use href="#h" x="896" y="1592"/><use href="#h" x="860" y="1614"/><use href="#h" x="896" y="1614"/><use href="#h" x="1018" y="1633"/><use href="#h" x="1018" y="1643"/><use href="#h" x="941" y="1759"/><use href="#h" x="963" y="1759"/><use href="#h" x="1016" y="1763"/><use href="#h" x="1102" y="1649"/><use href="#h" x="1169" y="1655"/><use href="#h" x="1169" y="1666"/><use href="#h" x="1088" y="1693"/><use href="#h" x="1123" y="1689"/><use href="#h" x="1146" y="1689"/><use href="#h" x="1145" y="1709"/><use href="#h" x="1145" y="1722"/><use href="#h" x="1242" y="1731"/><use href="#h" x="1265" y="1736"/><use href="#h" x="1299" y="1736"/><use href="#h" x="1322" y="1736"/><use href="#h" x="1239" y="1629"/><use href="#h" x="1239" y="1639"/><use href="#h" x="1236" y="1650"/><use href="#h" x="1236" y="1660"/><use href="#h" x="1261" y="1631"/><use href="#h" x="1261" y="1641"/><use href="#h" x="1261" y="1652"/><use href="#h" x="1261" y="1662"/><use href="#h" x="1297" y="1624"/><use href="#h" x="1319" y="1624"/><use href="#h" x="1287" y="1671"/><use href="#h" x="1320" y="1671"/>
<use href="#h" x="1086" y="1738"/><use href="#h" x="1086" y="1749"/><use href="#h" x="1086" y="1759"/><use href="#h" x="1086" y="1771"/><use href="#h" x="1086" y="1782"/><use href="#h" x="1086" y="1792"/><use href="#h" x="1086" y="1803"/><use href="#h" x="1086" y="1813"/><use href="#h" x="1086" y="1824"/><use href="#h" x="1086" y="1834"/><use href="#h" x="1085" y="1854"/><use href="#h" x="1085" y="1865"/><use href="#h" x="1052" y="1847"/><use href="#h" x="1052" y="1858"/><use href="#h" x="1052" y="1868"/><use href="#h" x="1261" y="1747"/><use href="#h" x="1261" y="1757"/><use href="#h" x="1261" y="1769"/><use href="#h" x="1261" y="1780"/><use href="#h" x="1261" y="1790"/><use href="#h" x="1261" y="1804"/><use href="#h" x="1261" y="1815"/><use href="#h" x="1261" y="1831"/><use href="#h" x="1287" y="1749"/><use href="#h" x="1287" y="1759"/><use href="#h" x="1287" y="1769"/><use href="#h" x="1287" y="1780"/><use href="#h" x="1287" y="1790"/><use href="#h" x="1313" y="1751"/><use href="#h" x="1314" y="1769"/><use href="#h" x="1313" y="1779"/><use href="#h" x="1344" y="1771"/><use href="#h" x="1295" y="1842"/><use href="#h" x="1407" y="1782"/><use href="#h" x="1407" y="1792"/><use href="#h" x="1433" y="1786"/><use href="#h" x="1399" y="1845"/><use href="#h" x="1562" y="1816"/><use href="#h" x="1493" y="1869"/><use href="#h" x="1587" y="1903"/><use href="#h" x="1502" y="1896"/>
<use href="#h" x="947" y="1795"/><use href="#h" x="844" y="1834"/><use href="#h" x="857" y="1928"/><use href="#h" x="1064" y="1913"/><use href="#h" x="1008" y="1946"/><use href="#h" x="1229" y="1873"/><use href="#h" x="1290" y="1863"/><use href="#h" x="1290" y="1873"/><use href="#h" x="1182" y="1900"/><use href="#h" x="1206" y="1900"/><use href="#h" x="1285" y="1921"/><use href="#h" x="1178" y="1951"/><use href="#h" x="1204" y="1951"/>
<use href="#h" x="1459" y="1919"/><use href="#h" x="1459" y="1930"/><use href="#h" x="1459" y="1941"/><use href="#h" x="1459" y="1951"/><use href="#h" x="1459" y="1962"/><use href="#h" x="1459" y="1972"/><use href="#h" x="1459" y="1982"/><use href="#h" x="1459" y="1993"/><use href="#h" x="1435" y="1941"/><use href="#h" x="1435" y="1951"/><use href="#h" x="1435" y="1961"/><use href="#h" x="1435" y="1972"/><use href="#h" x="1414" y="1977"/><use href="#h" x="1414" y="1988"/><use href="#h" x="1414" y="1998"/><use href="#h" x="1587" y="2044"/><use href="#h" x="963" y="1994"/><use href="#h" x="963" y="2004"/><use href="#h" x="1096" y="2021"/><use href="#h" x="842" y="2043"/><use href="#h" x="865" y="2043"/>
</g>

<!-- small vertical parts -->
<g>
<use href="#v" x="927" y="27"/><use href="#v" x="941" y="27"/><use href="#v" x="955" y="27"/><use href="#v" x="969" y="27"/><use href="#v" x="983" y="27"/><use href="#v" x="996" y="27"/><use href="#v" x="1011" y="27"/><use href="#v" x="1025" y="27"/><use href="#v" x="1039" y="27"/><use href="#v" x="905" y="39"/><use href="#v" x="916" y="39"/><use href="#v" x="895" y="63"/><use href="#v" x="908" y="63"/><use href="#v" x="919" y="63"/><use href="#v" x="932" y="63"/><use href="#v" x="943" y="63"/><use href="#v" x="1060" y="62"/><use href="#v" x="1070" y="62"/><use href="#v" x="1169" y="27"/><use href="#v" x="1181" y="27"/><use href="#v" x="1192" y="27"/><use href="#v" x="1192" y="63"/>
<use href="#v" x="1277" y="127"/><use href="#v" x="1259" y="146"/><use href="#v" x="1385" y="150"/><use href="#v" x="1396" y="150"/><use href="#v" x="1370" y="159"/><use href="#v" x="1370" y="183"/><use href="#v" x="1370" y="205"/><use href="#v" x="1385" y="234"/><use href="#v" x="1396" y="234"/><use href="#v" x="1406" y="234"/><use href="#v" x="1610" y="215"/><use href="#v" x="1610" y="239"/><use href="#v" x="1610" y="270"/><use href="#v" x="1610" y="293"/><use href="#v" x="1541" y="189"/><use href="#v" x="1553" y="189"/><use href="#v" x="920" y="216"/><use href="#v" x="932" y="216"/><use href="#v" x="958" y="212"/><use href="#v" x="971" y="212"/><use href="#v" x="985" y="212"/><use href="#v" x="998" y="212"/><use href="#v" x="1013" y="212"/><use href="#v" x="1026" y="212"/><use href="#v" x="1040" y="212"/><use href="#v" x="1055" y="212"/><use href="#v" x="1068" y="212"/><use href="#v" x="1109" y="212"/><use href="#v" x="1123" y="212"/><use href="#v" x="1137" y="212"/><use href="#v" x="1151" y="212"/><use href="#v" x="1165" y="212"/><use href="#v" x="908" y="238"/><use href="#v" x="919" y="238"/><use href="#v" x="931" y="238"/><use href="#v" x="944" y="235"/><use href="#v" x="1068" y="237"/><use href="#v" x="1081" y="237"/><use href="#v" x="1093" y="237"/><use href="#v" x="1165" y="238"/><use href="#v" x="1342" y="275"/><use href="#v" x="1293" y="312"/><use href="#v" x="1304" y="312"/><use href="#v" x="1315" y="312"/><use href="#v" x="1326" y="312"/><use href="#v" x="1522" y="302"/><use href="#v" x="1610" y="436"/><use href="#v" x="1610" y="460"/>
<use href="#v" x="74" y="155"/><use href="#v" x="85" y="155"/><use href="#v" x="96" y="155"/><use href="#v" x="106" y="155"/><use href="#v" x="148" y="463"/><use href="#v" x="262" y="452"/><use href="#v" x="272" y="452"/><use href="#v" x="283" y="452"/><use href="#v" x="562" y="424"/><use href="#v" x="573" y="424"/><use href="#v" x="562" y="456"/><use href="#v" x="573" y="456"/><use href="#v" x="688" y="456"/><use href="#v" x="761" y="456"/><use href="#v" x="786" y="456"/><use href="#v" x="796" y="456"/>
<use href="#v" x="75" y="560"/><use href="#v" x="86" y="560"/><use href="#v" x="100" y="560"/><use href="#v" x="114" y="560"/><use href="#v" x="124" y="560"/><use href="#v" x="88" y="639"/><use href="#v" x="153" y="726"/><use href="#v" x="66" y="724"/><use href="#v" x="66" y="764"/><use href="#v" x="180" y="778"/><use href="#v" x="88" y="801"/><use href="#v" x="121" y="804"/><use href="#v" x="344" y="697"/><use href="#v" x="344" y="723"/><use href="#v" x="344" y="749"/><use href="#v" x="279" y="806"/><use href="#v" x="291" y="806"/><use href="#v" x="304" y="806"/><use href="#v" x="684" y="522"/><use href="#v" x="698" y="522"/><use href="#v" x="693" y="916"/><use href="#v" x="412" y="914"/><use href="#v" x="522" y="843"/><use href="#v" x="788" y="700"/><use href="#v" x="557" y="662"/><use href="#v" x="650" y="660"/><use href="#v" x="557" y="693"/><use href="#v" x="558" y="740"/><use href="#v" x="650" y="740"/><use href="#v" x="678" y="1004"/><use href="#v" x="719" y="998"/><use href="#v" x="678" y="1030"/><use href="#v" x="710" y="1030"/><use href="#h" x="689" y="1025"/><use href="#h" x="689" y="1037"/>
<use href="#v" x="1213" y="541"/><use href="#v" x="1098" y="577"/><use href="#v" x="1219" y="579"/><use href="#v" x="1229" y="579"/><use href="#v" x="1244" y="579"/><use href="#v" x="1252" y="623"/><use href="#v" x="999" y="736"/><use href="#v" x="1062" y="854"/><use href="#v" x="1073" y="854"/><use href="#v" x="1087" y="850"/><use href="#v" x="1099" y="850"/><use href="#v" x="1127" y="854"/><use href="#v" x="1141" y="854"/><use href="#v" x="1175" y="854"/><use href="#v" x="1192" y="854"/><use href="#v" x="1206" y="854"/><use href="#v" x="1039" y="865"/><use href="#v" x="1050" y="875"/><use href="#v" x="1061" y="880"/><use href="#v" x="1073" y="880"/><use href="#v" x="1084" y="878"/><use href="#v" x="1096" y="878"/><use href="#v" x="1107" y="881"/><use href="#v" x="1175" y="876"/><use href="#v" x="1040" y="905"/><use href="#v" x="1050" y="905"/><use href="#v" x="1243" y="847"/><use href="#v" x="1232" y="865"/><use href="#v" x="1257" y="786"/><use href="#v" x="1257" y="809"/><use href="#v" x="1287" y="803"/><use href="#v" x="1296" y="801"/><use href="#v" x="1306" y="801"/><use href="#v" x="1390" y="713"/><use href="#v" x="1334" y="926"/><use href="#v" x="1346" y="926"/><use href="#v" x="1558" y="672"/><use href="#v" x="1569" y="672"/><use href="#v" x="1580" y="672"/>
<use href="#v" x="108" y="1072"/><use href="#v" x="516" y="1156"/><use href="#v" x="665" y="1055"/><use href="#v" x="765" y="1059"/><use href="#v" x="778" y="1059"/><use href="#v" x="765" y="1082"/><use href="#v" x="776" y="1082"/><use href="#v" x="786" y="1082"/><use href="#v" x="618" y="1184"/><use href="#v" x="632" y="1184"/><use href="#v" x="645" y="1184"/><use href="#v" x="658" y="1184"/><use href="#v" x="90" y="1153"/><use href="#v" x="106" y="1153"/><use href="#v" x="120" y="1153"/><use href="#v" x="132" y="1153"/><use href="#v" x="149" y="1153"/><use href="#v" x="162" y="1153"/><use href="#v" x="198" y="1173"/><use href="#v" x="198" y="1196"/><use href="#v" x="209" y="1196"/><use href="#v" x="24" y="1234"/><use href="#v" x="43" y="1234"/><use href="#v" x="53" y="1234"/><use href="#v" x="64" y="1234"/><use href="#v" x="111" y="1262"/><use href="#v" x="121" y="1262"/><use href="#v" x="135" y="1262"/><use href="#v" x="155" y="1262"/><use href="#v" x="171" y="1269"/><use href="#v" x="188" y="1262"/><use href="#v" x="331" y="1277"/><use href="#v" x="345" y="1277"/><use href="#v" x="359" y="1277"/><use href="#v" x="373" y="1277"/><use href="#v" x="386" y="1277"/><use href="#v" x="398" y="1277"/><use href="#v" x="440" y="1277"/><use href="#v" x="455" y="1277"/><use href="#v" x="655" y="1277"/><use href="#v" x="668" y="1277"/><use href="#v" x="698" y="1277"/><use href="#v" x="718" y="1277"/><use href="#v" x="176" y="1292"/><use href="#v" x="187" y="1292"/><use href="#v" x="36" y="1329"/><use href="#v" x="47" y="1329"/><use href="#v" x="60" y="1329"/><use href="#v" x="36" y="1352"/><use href="#v" x="60" y="1352"/><use href="#v" x="133" y="1352"/><use href="#v" x="144" y="1352"/><use href="#v" x="147" y="1376"/><use href="#v" x="158" y="1376"/><use href="#v" x="184" y="1378"/><use href="#v" x="106" y="1429"/><use href="#v" x="116" y="1429"/><use href="#v" x="157" y="1442"/><use href="#v" x="167" y="1442"/><use href="#v" x="178" y="1442"/><use href="#v" x="100" y="1483"/><use href="#v" x="110" y="1479"/><use href="#v" x="121" y="1475"/><use href="#v" x="132" y="1475"/><use href="#v" x="146" y="1475"/><use href="#v" x="157" y="1479"/><use href="#v" x="167" y="1479"/><use href="#v" x="178" y="1479"/><use href="#v" x="188" y="1479"/><use href="#v" x="62" y="1490"/><use href="#v" x="108" y="1596"/><use href="#v" x="123" y="1596"/><use href="#v" x="139" y="1596"/><use href="#v" x="150" y="1596"/><use href="#v" x="108" y="1625"/><use href="#v" x="97" y="1663"/><use href="#v" x="166" y="1660"/><use href="#v" x="39" y="1686"/><use href="#v" x="75" y="1686"/><use href="#v" x="86" y="1686"/><use href="#v" x="97" y="1686"/><use href="#v" x="112" y="1686"/><use href="#v" x="122" y="1686"/><use href="#v" x="133" y="1686"/><use href="#v" x="282" y="1719"/><use href="#v" x="292" y="1719"/><use href="#v" x="309" y="1715"/><use href="#v" x="218" y="1760"/><use href="#v" x="230" y="1760"/><use href="#v" x="114" y="1786"/><use href="#v" x="114" y="1808"/><use href="#v" x="52" y="1808"/><use href="#v" x="148" y="1819"/><use href="#v" x="146" y="1842"/><use href="#v" x="146" y="1865"/><use href="#v" x="390" y="2032"/><use href="#v" x="404" y="2032"/><use href="#v" x="419" y="2032"/><use href="#v" x="434" y="2032"/><use href="#v" x="695" y="1977"/><use href="#v" x="695" y="2041"/><use href="#v" x="801" y="1977"/>
<use href="#v" x="1234" y="1206"/><use href="#v" x="1220" y="1248"/><use href="#v" x="1231" y="1248"/><use href="#v" x="1192" y="1255"/><use href="#v" x="1082" y="1261"/><use href="#v" x="1068" y="1294"/><use href="#v" x="1079" y="1294"/><use href="#v" x="1092" y="1294"/><use href="#v" x="950" y="1277"/><use href="#v" x="960" y="1277"/><use href="#v" x="973" y="1277"/><use href="#v" x="973" y="1300"/><use href="#v" x="950" y="1320"/><use href="#v" x="962" y="1326"/><use href="#v" x="973" y="1326"/><use href="#v" x="1292" y="1154"/><use href="#v" x="1303" y="1154"/><use href="#v" x="1328" y="1382"/><use href="#v" x="1328" y="1404"/><use href="#v" x="1314" y="1407"/><use href="#v" x="1277" y="1408"/>
<use href="#v" x="1175.500" y="1456"/><use href="#v" x="1189" y="1456"/><use href="#v" x="1202" y="1456"/><use href="#v" x="1212" y="1456"/><use href="#v" x="1223" y="1456"/><use href="#v" x="1234" y="1456"/><use href="#v" x="1245" y="1456"/><use href="#v" x="1259" y="1456"/><use href="#v" x="1274" y="1456"/><use href="#v" x="1285" y="1456"/><use href="#v" x="1296" y="1456"/><use href="#v" x="1315" y="1456"/><use href="#v" x="1326" y="1456"/><use href="#v" x="1337" y="1456"/><use href="#v" x="1151" y="1486"/><use href="#v" x="1161" y="1479"/><use href="#v" x="1172" y="1479"/><use href="#v" x="1182" y="1482"/><use href="#v" x="1202" y="1483"/><use href="#v" x="1216" y="1483"/><use href="#v" x="1232" y="1483"/><use href="#v" x="1273" y="1482"/><use href="#v" x="1311" y="1483"/>
<use href="#v" x="1509" y="1188"/><use href="#v" x="1559" y="1188"/><use href="#v" x="1619" y="1206"/><use href="#v" x="1436" y="1214"/><use href="#v" x="1454.500" y="1210"/><use href="#v" x="1465" y="1210"/><use href="#v" x="1477" y="1210"/><use href="#v" x="1487.500" y="1210"/><use href="#v" x="1498.500" y="1210"/><use href="#v" x="1509" y="1210"/><use href="#v" x="1520" y="1210"/><use href="#v" x="1530" y="1213"/><use href="#v" x="1544" y="1210"/><use href="#v" x="1554.500" y="1210"/><use href="#v" x="1564.500" y="1210"/><use href="#v" x="1576" y="1210"/><use href="#v" x="1587.500" y="1210"/><use href="#v" x="1598.500" y="1210"/><use href="#v" x="1447" y="1235"/><use href="#v" x="1460" y="1235"/><use href="#v" x="1471" y="1235"/><use href="#v" x="1482" y="1235"/><use href="#v" x="1492" y="1235"/><use href="#v" x="1506" y="1235"/><use href="#v" x="1518" y="1235"/><use href="#v" x="1530" y="1235"/><use href="#v" x="1540" y="1235"/><use href="#v" x="1552.500" y="1235"/><use href="#v" x="1566" y="1235"/><use href="#v" x="1577" y="1235"/><use href="#v" x="1587.500" y="1235"/><use href="#v" x="1598.500" y="1235"/><use href="#v" x="1608.500" y="1233"/><use href="#v" x="1607" y="1265"/><use href="#v" x="1607" y="1289"/><use href="#v" x="1607" y="1325"/>
<use href="#v" x="1423" y="1355"/><use href="#v" x="1434" y="1355"/><use href="#v" x="1448" y="1355"/><use href="#v" x="1459" y="1355"/><use href="#v" x="1469" y="1355"/><use href="#v" x="1480" y="1355"/><use href="#v" x="1492" y="1355"/><use href="#v" x="1503" y="1355"/><use href="#v" x="1516" y="1355"/><use href="#v" x="1565" y="1355"/><use href="#v" x="1575.500" y="1355"/><use href="#v" x="1586" y="1355"/><use href="#v" x="1459" y="1381"/><use href="#v" x="1469" y="1381"/><use href="#v" x="1480" y="1381"/><use href="#v" x="1492" y="1381"/><use href="#v" x="1503" y="1381"/><use href="#v" x="1516" y="1381"/><use href="#v" x="1527" y="1381"/><use href="#v" x="1563" y="1381"/><use href="#v" x="1575.500" y="1381"/><use href="#v" x="1586" y="1381"/><use href="#v" x="1447" y="1393"/><use href="#v" x="1503" y="1407"/><use href="#v" x="1515" y="1407"/><use href="#v" x="1526" y="1407"/><use href="#v" x="1536" y="1407"/><use href="#v" x="1547" y="1407"/><use href="#v" x="1558" y="1407"/><use href="#v" x="1628" y="1437"/><use href="#v" x="1414" y="1484"/><use href="#v" x="1540" y="1477"/><use href="#v" x="1551" y="1477"/><use href="#v" x="1562" y="1477"/><use href="#v" x="1572" y="1477"/><use href="#v" x="1583" y="1477"/><use href="#v" x="1592" y="1477"/><use href="#v" x="1626" y="1522"/><use href="#v" x="1626" y="1544"/><use href="#v" x="1519" y="1531"/><use href="#v" x="1531.500" y="1531"/><use href="#v" x="1456" y="1537"/><use href="#v" x="1467" y="1537"/><use href="#v" x="1478" y="1537"/><use href="#v" x="1489" y="1537"/><use href="#v" x="1499" y="1537"/><use href="#v" x="1510" y="1537"/>
<use href="#v" x="1025" y="1566"/><use href="#v" x="1405" y="1564"/><use href="#v" x="1424" y="1564"/><use href="#v" x="1434" y="1564"/><use href="#v" x="1445" y="1564"/><use href="#v" x="1456" y="1564"/><use href="#v" x="1467" y="1564"/><use href="#v" x="1509" y="1560"/><use href="#v" x="1519" y="1557"/><use href="#v" x="1530" y="1557"/><use href="#v" x="1540" y="1557"/><use href="#v" x="1551" y="1557"/><use href="#v" x="1561" y="1557"/><use href="#v" x="1572" y="1557"/><use href="#v" x="1586" y="1557"/><use href="#v" x="1596" y="1557"/><use href="#v" x="1607" y="1553"/><use href="#v" x="1617" y="1553"/><use href="#v" x="1627" y="1609"/><use href="#v" x="1558" y="1659"/><use href="#v" x="1558" y="1682"/><use href="#v" x="1558" y="1704"/><use href="#v" x="1521" y="1707"/><use href="#v" x="835" y="1704"/><use href="#v" x="1016" y="1685"/><use href="#v" x="1016" y="1707"/><use href="#v" x="1123" y="1652"/><use href="#v" x="1215" y="1681"/><use href="#v" x="1230" y="1681"/><use href="#v" x="1243" y="1681"/><use href="#v" x="1257" y="1681"/><use href="#v" x="1224" y="1710"/><use href="#v" x="1340" y="1617"/><use href="#v" x="1363" y="1618"/><use href="#v" x="1363" y="1704"/><use href="#v" x="1362" y="1746"/><use href="#v" x="1075" y="1803"/><use href="#v" x="1395" y="1779"/><use href="#v" x="1460" y="1779"/><use href="#v" x="1472" y="1779"/><use href="#v" x="1476" y="1808"/><use href="#v" x="1478" y="1831"/><use href="#v" x="1545" y="1819"/><use href="#v" x="1555" y="1833"/><use href="#v" x="1545" y="1842"/><use href="#v" x="1481" y="1858"/><use href="#v" x="1570" y="1855"/><use href="#v" x="1580" y="1855"/><use href="#v" x="1627" y="1856"/><use href="#v" x="1596" y="1871"/><use href="#v" x="1606" y="1871"/><use href="#v" x="1617" y="1871"/><use href="#v" x="1585" y="1878"/>
<use href="#v" x="837" y="1808"/><use href="#v" x="853" y="1867"/><use href="#v" x="1052" y="1919"/><use href="#v" x="1062" y="1926"/><use href="#v" x="918" y="1949"/><use href="#v" x="958" y="1949"/><use href="#v" x="970" y="1949"/><use href="#v" x="880" y="1972"/><use href="#v" x="893" y="1972"/><use href="#v" x="1015" y="1975"/><use href="#v" x="1026" y="1975"/><use href="#v" x="1039" y="1975"/><use href="#v" x="1050" y="1975"/><use href="#v" x="1162" y="1912"/><use href="#v" x="1129" y="1877"/><use href="#v" x="1143" y="1877"/><use href="#v" x="1162" y="1877"/><use href="#v" x="1175" y="1877"/><use href="#v" x="1217" y="1879"/><use href="#v" x="1230" y="1889"/><use href="#v" x="1247" y="1911"/><use href="#v" x="1257" y="1911"/><use href="#v" x="1260" y="1937"/><use href="#v" x="1270" y="1937"/><use href="#v" x="1379" y="1888"/><use href="#v" x="1390" y="1888"/><use href="#v" x="1403" y="1888"/><use href="#v" x="1414" y="1888"/><use href="#v" x="1379" y="1910"/><use href="#v" x="1390" y="1910"/><use href="#v" x="1403" y="1910"/><use href="#v" x="1414" y="1910"/><use href="#v" x="1454" y="1883"/><use href="#v" x="1486" y="1919"/><use href="#v" x="1486" y="1942"/><use href="#v" x="1486" y="1973"/><use href="#v" x="1402" y="1987"/><use href="#v" x="1436" y="1987"/><use href="#v" x="1446" y="1987"/><use href="#v" x="1338" y="1994"/><use href="#v" x="1475" y="2010"/><use href="#v" x="1475" y="2033"/><use href="#v" x="1079" y="2010"/><use href="#v" x="1079" y="2033"/><use href="#v" x="1096" y="2033"/><use href="#v" x="1163" y="2010"/><use href="#v" x="1160" y="2033"/><use href="#v" x="888" y="2033"/>
</g>

<!-- dots -->
<g fill="none" stroke-linecap="round">
<use href="#D" stroke="#7a7a7a" stroke-width="3.2"/>
<use href="#D" stroke="#fff" stroke-width="1.5"/>
<use href="#R" stroke="#f47c7c" stroke-width="3.4"/>
<use href="#R" stroke="#fff" stroke-width="1.4"/>
</g>

<!-- cross -->
<path d="M798 1030H838M818 1010V1050" fill="none" stroke="#5b9485" stroke-width="1.5"/>

<!-- tiny labels -->
<g class="t">
<text transform="translate(211 28) rotate(90)" font-size="5" textLength="26" lengthAdjust="spacingAndGlyphs" dy=".36em">XDD000034</text>
<text transform="translate(1118 28) rotate(90)" font-size="5" textLength="26" lengthAdjust="spacingAndGlyphs" dy=".36em">XDD000034</text>
<text transform="translate(1617 28) rotate(90)" font-size="5" textLength="26" lengthAdjust="spacingAndGlyphs" dy=".36em">XDD000033</text>
<text transform="translate(54 1110) rotate(90)" font-size="5" textLength="26" lengthAdjust="spacingAndGlyphs" dy=".36em">XDD000036</text>
<text transform="translate(54 1423) rotate(90)" font-size="5" textLength="26" lengthAdjust="spacingAndGlyphs" dy=".36em">XDD000037</text>
<text transform="translate(1118 1110) rotate(90)" font-size="5" textLength="26" lengthAdjust="spacingAndGlyphs" dy=".36em">XDD000038</text>
<text transform="translate(1617 1110) rotate(90)" font-size="5" textLength="26" lengthAdjust="spacingAndGlyphs" dy=".36em">XDD000032</text>
<text transform="translate(54 1955) rotate(90)" font-size="6" textLength="40" lengthAdjust="spacingAndGlyphs" dy=".36em">XDD000040</text>
<text transform="translate(1118 1965) rotate(90)" font-size="5" textLength="26" lengthAdjust="spacingAndGlyphs" dy=".36em">XDD000025</text>
<text transform="translate(1617 1965) rotate(90)" font-size="5" textLength="26" lengthAdjust="spacingAndGlyphs" dy=".36em">XDD000021</text>
<text transform="translate(97 842) rotate(90)" font-size="8" dy=".36em">D2</text>
<text transform="translate(124 842) rotate(90)" font-size="8" dy=".36em">D5</text>
<text transform="translate(97 871) rotate(90)" font-size="8" dy=".36em">D3</text>
<text transform="translate(124 871) rotate(90)" font-size="8" dy=".36em">D8</text>
<text transform="translate(1016 538) rotate(90)" font-size="6" dy=".36em">Q11</text>
<text transform="translate(1045 538) rotate(90)" font-size="6" dy=".36em">Q12</text>
<text transform="translate(1180 540) rotate(90)" font-size="6" dy=".36em">Q13</text>
<text transform="translate(1179 567) rotate(90)" font-size="6" dy=".36em">Q14</text>
<text transform="translate(965 69)" font-size="7" dy=".36em">RN8</text>
<text transform="translate(992 69)" font-size="7" dy=".36em">RN10</text>
<text transform="translate(1018 69)" font-size="7" dy=".36em">RN14</text>
<text transform="translate(1044 69)" font-size="7" dy=".36em">RN16</text>
<text transform="translate(1177 68)" font-size="7" dy=".36em">RN21</text>
<text transform="translate(965 244)" font-size="7" dy=".36em">RN11</text>
<text transform="translate(993 244)" font-size="7" dy=".36em">RN12</text>
<text transform="translate(1022 244)" font-size="7" dy=".36em">RN15</text>
<text transform="translate(1050 244)" font-size="7" dy=".36em">RN17</text>
<text transform="translate(1118 244)" font-size="7" dy=".36em">RN22</text>
<text transform="translate(1147 244)" font-size="7" dy=".36em">RN23</text>
<text transform="translate(522 1189)" font-size="8" dy=".36em">RP4</text>
<text transform="translate(783 1709)" font-size="9" dy=".36em">RP7</text>
<text transform="translate(897 1955)" font-size="8" dy=".36em">RP8</text>
<text transform="translate(939 1956)" font-size="7" dy=".36em">RN13</text>
<text transform="translate(882 2009)" font-size="7" dy=".36em">RN9</text>
<text transform="translate(324 1569)" font-size="7" dy=".36em">RN6</text>
<text transform="translate(1255 1490)" font-size="7" dy=".36em">RN35</text>
<text transform="translate(1294 1490)" font-size="7" dy=".36em">RN38</text>
<text transform="translate(1548 1389)" font-size="7" dy=".36em">RN40</text>
<text transform="translate(1415 1544)" font-size="7" dy=".36em">RN34</text>
<text transform="translate(1441 1544)" font-size="7" dy=".36em">RN36</text>
<text transform="translate(1492 1573)" font-size="7" dy=".36em">RN39</text>
<text transform="translate(1397 1870)" font-size="7" dy=".36em">RN28</text>
<text transform="translate(155 284) rotate(90)" font-size="7" dy=".36em">RP1</text>
<text transform="translate(155 319) rotate(90)" font-size="7" dy=".36em">RN3</text>
<text transform="translate(155 378) rotate(90)" font-size="7" dy=".36em">RN4</text>
<text transform="translate(155 411) rotate(90)" font-size="7" dy=".36em">RP2</text>
<text transform="translate(155 445) rotate(90)" font-size="7" dy=".36em">RN5</text>
<text transform="translate(186 94) rotate(90)" font-size="7" dy=".36em">RN1</text>
<text transform="translate(217 94) rotate(90)" font-size="7" dy=".36em">RN2</text>
<text transform="translate(751 1287) rotate(90)" font-size="7" dy=".36em">RP5</text>
<text transform="translate(416 1430) rotate(90)" font-size="7" dy=".36em">RP3</text>
<text transform="translate(610 1428) rotate(90)" font-size="7" dy=".36em">RP6</text>
<text transform="translate(587 1568) rotate(90)" font-size="7" dy=".36em">RP5</text>
</g>

<!-- labels -->
<g>
<text transform="translate(55 67) rotate(90)" font-size="17" textLength="65" lengthAdjust="spacingAndGlyphs" dy=".36em">PS2KBMS</text>
<text transform="translate(745 108)" font-size="30" textLength="108" lengthAdjust="spacingAndGlyphs" dy=".36em">RIMMB2</text>
<text transform="translate(745 172)" font-size="30" textLength="106" lengthAdjust="spacingAndGlyphs" dy=".36em">RIMMB1</text>
<text transform="translate(745 283)" font-size="30" textLength="108" lengthAdjust="spacingAndGlyphs" dy=".36em">RIMMA2</text>
<text transform="translate(745 348)" font-size="30" textLength="106" lengthAdjust="spacingAndGlyphs" dy=".36em">RIMMA1</text>
<text transform="translate(42 243) rotate(90)" font-size="20" textLength="50" lengthAdjust="spacingAndGlyphs" dy=".36em">COM1</text>
<text transform="translate(42 491) rotate(90)" font-size="20" textLength="50" lengthAdjust="spacingAndGlyphs" dy=".36em">COM2</text>
<text transform="translate(55 367) rotate(90)" font-size="44" textLength="170" lengthAdjust="spacingAndGlyphs" dy=".36em">PRINTER</text>
<text transform="translate(15 754) rotate(90)" font-size="34" textLength="162" lengthAdjust="spacingAndGlyphs" dy=".36em">AUDIOJACK</text>
<text transform="translate(91.500 964) rotate(90)" font-size="24" textLength="87" lengthAdjust="spacingAndGlyphs" dy=".36em">LANUSB</text>
<text transform="translate(600 708.600)" font-size="40" textLength="45" lengthAdjust="spacingAndGlyphs" dy=".36em">U1</text>
<text transform="translate(1136 722) rotate(90)" font-size="40" textLength="67" lengthAdjust="spacingAndGlyphs" dy=".36em">U23</text>
<text transform="translate(307 771)" font-size="17" textLength="37" lengthAdjust="spacingAndGlyphs" dy=".36em">U2002</text>
<text transform="translate(355.500 436)" font-size="18" textLength="32" lengthAdjust="spacingAndGlyphs" dy=".36em">Q106</text>
<text transform="translate(481 418) rotate(90)" font-size="7" textLength="24" lengthAdjust="spacingAndGlyphs" dy=".36em">MAIN_FAN</text>
<text transform="translate(611 431)" font-size="22" textLength="32" lengthAdjust="spacingAndGlyphs" dy=".36em">U13</text>
<text transform="translate(771 424)" font-size="22" textLength="32" lengthAdjust="spacingAndGlyphs" dy=".36em">U16</text>
<text transform="translate(1396 115)" font-size="20" textLength="30" lengthAdjust="spacingAndGlyphs" dy=".36em">Q23</text>
<text transform="translate(1491 146) rotate(90)" font-size="20" textLength="30" lengthAdjust="spacingAndGlyphs" dy=".36em">Q26</text>
<text transform="translate(1305 194) rotate(90)" font-size="20" textLength="30" lengthAdjust="spacingAndGlyphs" dy=".36em">Q20</text>
<text transform="translate(1408 199)" font-size="22" textLength="34" lengthAdjust="spacingAndGlyphs" dy=".36em">U29</text>
<text transform="translate(1306 288)" font-size="16" textLength="28" lengthAdjust="spacingAndGlyphs" dy=".36em">U100</text>
<text transform="translate(1505 387) rotate(90)" font-size="20" textLength="30" lengthAdjust="spacingAndGlyphs" dy=".36em">Q27</text>
<text transform="translate(1566 358) rotate(90)" font-size="40" textLength="133" lengthAdjust="spacingAndGlyphs" dy=".36em">ATXPWR</text>
<text transform="translate(1481 508)" font-size="17" textLength="32" lengthAdjust="spacingAndGlyphs" dy=".36em">Q107</text>
<text transform="translate(1553 566)" font-size="17" textLength="72" lengthAdjust="spacingAndGlyphs" dy=".36em">AUXPWR</text>
<text transform="translate(1440 663) rotate(90)" font-size="7" textLength="24" lengthAdjust="spacingAndGlyphs" dy=".36em">CPU_FAN</text>
<text transform="translate(1370 813)" font-size="17" textLength="32" lengthAdjust="spacingAndGlyphs" dy=".36em">Q120</text>
<text transform="translate(1389 931)" font-size="20" textLength="36" lengthAdjust="spacingAndGlyphs" dy=".36em">U103</text>
<text transform="translate(1350 993) rotate(90)" font-size="10" textLength="26" lengthAdjust="spacingAndGlyphs" dy=".36em">ATX12V</text>
<text transform="translate(1452 894) rotate(90)" font-size="18" textLength="34" lengthAdjust="spacingAndGlyphs" dy=".36em">IDE2</text>
<text transform="translate(1527 894) rotate(90)" font-size="18" textLength="34" lengthAdjust="spacingAndGlyphs" dy=".36em">IDE1</text>
<text transform="translate(1602 877) rotate(90)" font-size="18" textLength="64" lengthAdjust="spacingAndGlyphs" dy=".36em">FLOPPY</text>
<text transform="translate(170 1108) rotate(90)" font-size="28" textLength="40" lengthAdjust="spacingAndGlyphs" dy=".36em">JU6</text>
<text transform="translate(264 1088) rotate(90)" font-size="32" textLength="37" lengthAdjust="spacingAndGlyphs" dy=".36em">Q2</text>
<text transform="translate(304 1163)" font-size="30" textLength="39" lengthAdjust="spacingAndGlyphs" dy=".36em">Q3</text>
<text transform="translate(481 1163)" font-size="18" textLength="26" lengthAdjust="spacingAndGlyphs" dy=".36em">U12</text>
<text transform="translate(551 1126) rotate(90)" font-size="32" textLength="37" lengthAdjust="spacingAndGlyphs" dy=".36em">Q4</text>
<text transform="translate(633 1103) rotate(90)" font-size="32" textLength="37" lengthAdjust="spacingAndGlyphs" dy=".36em">Q5</text>
<text transform="translate(718 1089)" font-size="30" textLength="50" lengthAdjust="spacingAndGlyphs" dy=".36em">U15</text>
<text transform="translate(141 1214)" font-size="44" textLength="50" lengthAdjust="spacingAndGlyphs" dy=".36em">U7</text>
<text transform="translate(270 1232) rotate(90)" font-size="15" textLength="26" lengthAdjust="spacingAndGlyphs" dy=".36em">U10</text>
<text transform="translate(680 1238)" font-size="36" textLength="146" lengthAdjust="spacingAndGlyphs" dy=".36em">AGPPRO</text>
<text transform="translate(301 1299) rotate(90)" font-size="15" textLength="26" lengthAdjust="spacingAndGlyphs" dy=".36em">U11</text>
<text transform="translate(97 1354)" font-size="24" textLength="26" lengthAdjust="spacingAndGlyphs" dy=".36em">U3</text>
<text transform="translate(527 1378)" font-size="45" textLength="85" lengthAdjust="spacingAndGlyphs" dy=".36em">PCI1</text>
<text transform="translate(527 1518)" font-size="45" textLength="85" lengthAdjust="spacingAndGlyphs" dy=".36em">PCI2</text>
<text transform="translate(527 1657)" font-size="45" textLength="85" lengthAdjust="spacingAndGlyphs" dy=".36em">PCI3</text>
<text transform="translate(527 1797)" font-size="45" textLength="85" lengthAdjust="spacingAndGlyphs" dy=".36em">PCI4</text>
<text transform="translate(527 1936)" font-size="45" textLength="85" lengthAdjust="spacingAndGlyphs" dy=".36em">PCI5</text>
<text transform="translate(37 1565) rotate(90)" font-size="24" textLength="24" lengthAdjust="spacingAndGlyphs" dy=".36em">U4</text>
<text transform="translate(141 1547) rotate(90)" font-size="30" textLength="32" lengthAdjust="spacingAndGlyphs" dy=".36em">U9</text>
<text transform="translate(192 1689) rotate(90)" font-size="15" textLength="28" lengthAdjust="spacingAndGlyphs" dy=".36em">U120</text>
<text transform="translate(248 1725)" font-size="18" textLength="36" lengthAdjust="spacingAndGlyphs" dy=".36em">U102</text>
<text transform="translate(100 1859)" font-size="34" textLength="41" lengthAdjust="spacingAndGlyphs" dy=".36em">U5</text>
<text transform="translate(314 2013)" font-size="13" textLength="51" lengthAdjust="spacingAndGlyphs" dy=".36em">HPDCOM2</text>
<text transform="translate(644 2015)" font-size="30" textLength="50" lengthAdjust="spacingAndGlyphs" dy=".36em">U14</text>
<text transform="translate(749 2015)" font-size="30" textLength="50" lengthAdjust="spacingAndGlyphs" dy=".36em">U17</text>
<text transform="translate(842 1101) rotate(90)" font-size="32" textLength="37" lengthAdjust="spacingAndGlyphs" dy=".36em">Q6</text>
<text transform="translate(917 1128) rotate(90)" font-size="32" textLength="37" lengthAdjust="spacingAndGlyphs" dy=".36em">Q7</text>
<text transform="translate(996 1112)" font-size="18" textLength="26" lengthAdjust="spacingAndGlyphs" dy=".36em">U18</text>
<text transform="translate(886 1312)" font-size="32" textLength="40" lengthAdjust="spacingAndGlyphs" dy=".36em">Q8</text>
<text transform="translate(1185 1362) rotate(90)" font-size="42" textLength="68" lengthAdjust="spacingAndGlyphs" dy=".36em">U24</text>
<text transform="translate(1380 1323) rotate(90)" font-size="15" textLength="27" lengthAdjust="spacingAndGlyphs" dy=".36em">U110</text>
<text transform="translate(1364.500 1405)" font-size="26" textLength="28" lengthAdjust="spacingAndGlyphs" dy=".36em">X4</text>
<text transform="translate(1539 1303)" font-size="42" textLength="69" lengthAdjust="spacingAndGlyphs" dy=".36em">U31</text>
<text transform="translate(1570 1525)" font-size="20" textLength="36" lengthAdjust="spacingAndGlyphs" dy=".36em">U101</text>
<text transform="translate(1344 1594)" font-size="20" textLength="28" lengthAdjust="spacingAndGlyphs" dy=".36em">U27</text>
<text transform="translate(1445 1682) rotate(90)" font-size="42" textLength="68" lengthAdjust="spacingAndGlyphs" dy=".36em">U30</text>
<text transform="translate(1600 1718) rotate(90)" font-size="42" textLength="78" lengthAdjust="spacingAndGlyphs" dy=".36em">SW1</text>
<text transform="translate(941 1696)" font-size="34" textLength="58" lengthAdjust="spacingAndGlyphs" dy=".36em">U19</text>
<text transform="translate(1310 1650)" font-size="20" textLength="28" lengthAdjust="spacingAndGlyphs" dy=".36em">U28</text>
<text transform="translate(1306 1706)" font-size="22" textLength="31" lengthAdjust="spacingAndGlyphs" dy=".36em">Q22</text>
<text transform="translate(1179 1802) rotate(90)" font-size="42" textLength="65" lengthAdjust="spacingAndGlyphs" dy=".36em">U25</text>
<text transform="translate(1515 1816) rotate(90)" font-size="18" textLength="32" lengthAdjust="spacingAndGlyphs" dy=".36em">Q108</text>
<text transform="translate(1423 1828)" font-size="8" textLength="26" lengthAdjust="spacingAndGlyphs" dy=".36em">PCI_FAN</text>
<text transform="translate(953.500 1870)" font-size="42" textLength="70" lengthAdjust="spacingAndGlyphs" dy=".36em">U20</text>
<text transform="translate(1200 1925)" font-size="20" textLength="28" lengthAdjust="spacingAndGlyphs" dy=".36em">U26</text>
<text transform="translate(1331 1954)" font-size="20" textLength="43" lengthAdjust="spacingAndGlyphs" dy=".36em">USB2</text>
<text transform="translate(1218 2005) rotate(90)" font-size="32" textLength="30" lengthAdjust="spacingAndGlyphs" dy=".36em">X5</text>
<text transform="translate(1349 2007)" font-size="18" textLength="62" lengthAdjust="spacingAndGlyphs" dy=".36em">USB-HPD</text>
<text transform="translate(1357 2037)" font-size="20" textLength="53" lengthAdjust="spacingAndGlyphs" dy=".36em">PANEL</text>
<text transform="translate(1507 1963) rotate(90)" font-size="20" textLength="43" lengthAdjust="spacingAndGlyphs" dy=".36em">J2001</text>
<text transform="translate(1542.500 1959) rotate(90)" font-size="20" textLength="92" lengthAdjust="spacingAndGlyphs" dy=".36em">HPD-PANEL</text>
<text transform="translate(927 2023)" font-size="22" textLength="36" lengthAdjust="spacingAndGlyphs" dy=".36em">U21</text>
<text transform="translate(1044 2023)" font-size="22" textLength="36" lengthAdjust="spacingAndGlyphs" dy=".36em">U22</text>
<text transform="translate(985 2032)" font-size="12" textLength="20" lengthAdjust="spacingAndGlyphs" dy=".36em">WOL</text>
</g>
</svg>
</body></html>
